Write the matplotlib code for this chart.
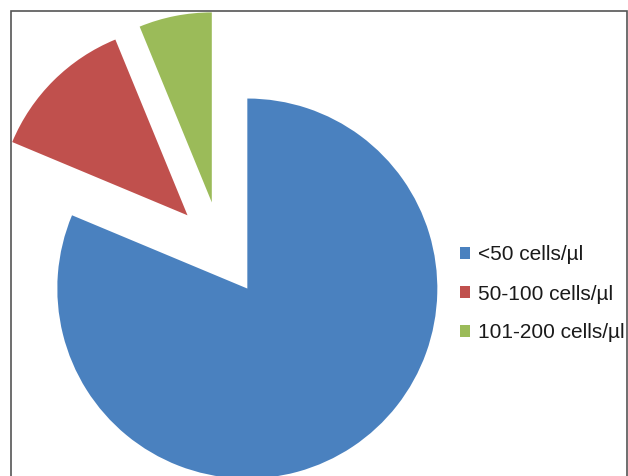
import matplotlib
matplotlib.use("Agg")
import matplotlib.pyplot as plt
from matplotlib.patches import Rectangle

# share of patients by CD4 count
labels = ['<50 cells/µl', '50-100 cells/µl', '101-200 cells/µl']
values = [81.3, 12.5, 6.2]
colors = ['#4a81bf', '#c0504d', '#9bbb59']

plt.rcParams['font.family'] = ['Liberation Sans', 'DejaVu Sans']

W, H = 628, 476
R = 190  # pie radius in pixels
fig = plt.figure(figsize=(W / 100, H / 100), dpi=100)
ax = fig.add_axes([0, 0, 1, 1])

# chart area border (bottom edge falls outside the image)
frame = Rectangle((10.5, -5), 616.5, H - 10.5 + 5, fill=False,
                  edgecolor='#555555', linewidth=1.2, zorder=5)
ax.add_patch(frame)

# every slice pulled out by a quarter of the radius
wedges, _ = ax.pie(values, colors=colors, explode=[0.25 * R] * 3,
                   startangle=90, counterclock=False, radius=R,
                   center=(221, H - 249), wedgeprops=dict(linewidth=0),
                   frame=True)
ax.set_xlim(0, W)
ax.set_ylim(0, H)
ax.set_aspect('equal')
ax.axis('off')
for w in wedges:
    w.set_clip_path(frame)

leg = fig.legend(wedges, labels, loc='center left',
                 bbox_to_anchor=(459.5 / W, (H - 294) / H), frameon=False,
                 fontsize=15, handlelength=0.5, handleheight=0.5,
                 handletextpad=0.38, labelspacing=0.96, borderpad=0,
                 borderaxespad=0)
for t in leg.get_texts():
    t.set_color('#1a1a1a')
    t.set_clip_path(frame)

fig.savefig('out.png', dpi=100)
